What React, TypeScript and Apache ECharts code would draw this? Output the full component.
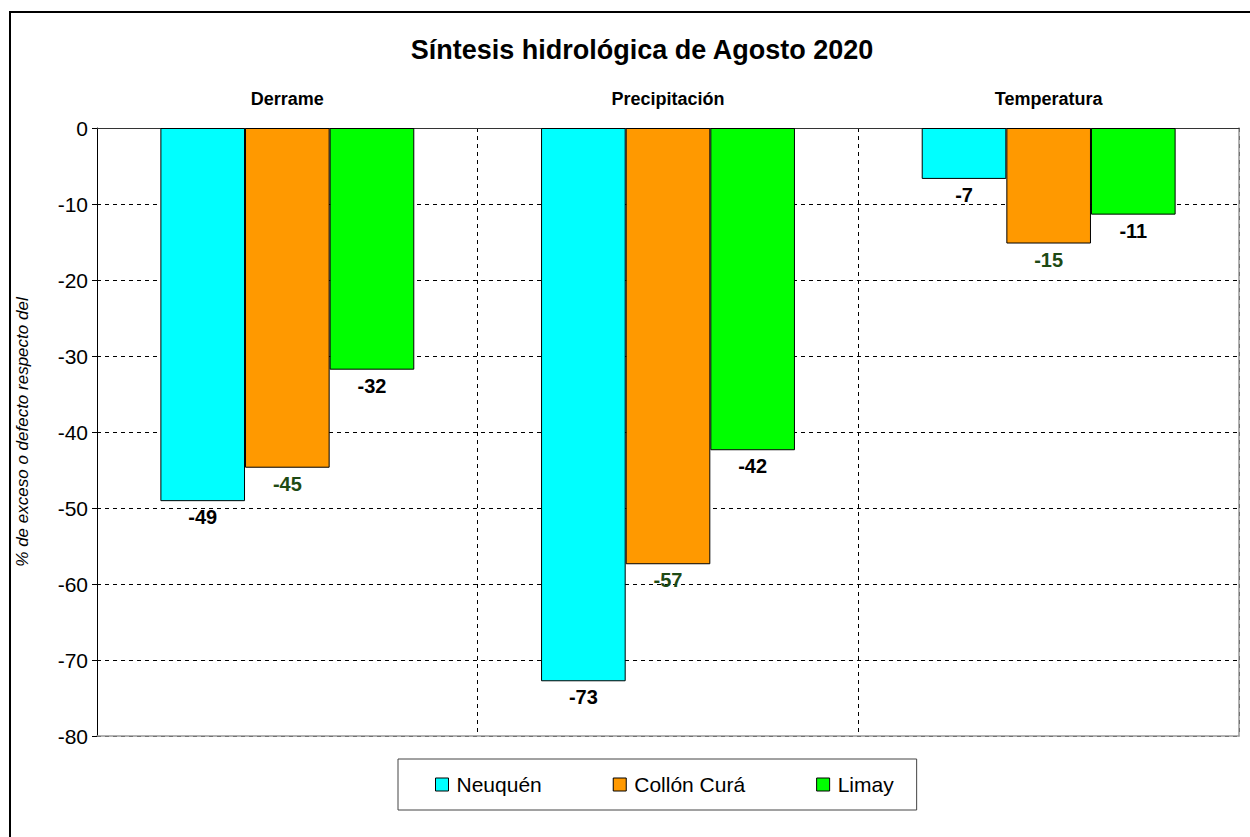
import React, { useEffect, useRef } from "react";
import * as echarts from "echarts";

const TITLE = "Síntesis hidrológica de Agosto 2020";
const Y_AXIS_NAME = "% de exceso o defecto respecto del";
const categories = ["Derrame", "Precipitación", "Temperatura"];
const seriesNames = ["Neuquén", "Collón Curá", "Limay"];
const neuquen = [-49.1, -72.8, -6.7];
const collonCura = [-44.7, -57.4, -15.2];
const limay = [-31.8, -42.4, -11.4];
const seriesValues = [neuquen, collonCura, limay];
const colors = ["#00FFFF", "#FF9900", "#00FF00"];
const labelColors = ["#000000", "#1E4A14", "#000000"];
const yTicks = { min: -80, max: 0, interval: 10 };

const FONT = "'Liberation Sans', Arial, Helvetica, sans-serif";

export default function App() {
  const ref = useRef<HTMLDivElement>(null);
  useEffect(() => {
    if (!ref.current) return;
    const chart = echarts.init(ref.current, null, { renderer: "svg" });
    const option: any = {
      animation: false,
      backgroundColor: "#ffffff",
      textStyle: { fontFamily: FONT },
      graphic: [
        {
          type: "rect",
          shape: { x: 10, y: 12, width: 1260, height: 840 },
          style: { fill: "none", stroke: "#000", lineWidth: 2 },
          silent: true,
        },
        {
          type: "text",
          x: 642,
          y: 50,
          style: {
            text: TITLE,
            align: "center",
            verticalAlign: "middle",
            fontFamily: FONT,
            fontWeight: "bold",
            fontSize: 27,
            fill: "#000",
          },
        },
      ],
      grid: { left: 97, top: 128, right: 11, bottom: 101, containLabel: false },
      legend: {
        data: seriesNames,
        left: 398,
        top: 759,
        orient: "horizontal",
        padding: [15, 23, 15, 37],
        itemGap: 71,
        itemWidth: 13,
        itemHeight: 13,
        icon: "rect",
        borderColor: "#444",
        borderWidth: 1,
        itemStyle: { borderColor: "#000", borderWidth: 1 },
        textStyle: { fontFamily: FONT, fontSize: 21, color: "#000", lineHeight: 20, padding: [0, 0, 0, 3] },
      },
      xAxis: [
        {
          type: "category",
          data: categories,
          position: "top",
          axisLine: { show: true, lineStyle: { color: "#333", width: 1 } },
          axisTick: { show: false },
          axisLabel: { fontFamily: FONT, fontWeight: "bold", fontSize: 18, color: "#000", margin: 20 },
          splitLine: { show: true, lineStyle: { color: "#000", type: [4, 4], width: 1 } },
        },
        {
          type: "category",
          data: categories,
          position: "bottom",
          axisLine: { show: true, onZero: false, lineStyle: { color: "#999", width: 1.5 } },
          axisTick: { show: false },
          axisLabel: { show: false },
          splitLine: { show: false },
        },
      ],
      yAxis: [
        {
          type: "value",
          min: yTicks.min,
          max: yTicks.max,
          interval: yTicks.interval,
          name: Y_AXIS_NAME,
          nameLocation: "middle",
          nameGap: 66,
          nameTextStyle: { fontFamily: FONT, fontStyle: "italic", fontSize: 17, color: "#000" },
          axisLine: { show: true, lineStyle: { color: "#000", width: 1 } },
          axisTick: { show: true, length: 5, lineStyle: { color: "#000" } },
          axisLabel: { fontFamily: FONT, fontSize: 21, color: "#000", margin: 9 },
          splitLine: { show: true, lineStyle: { color: "#000", type: [4, 4], width: 1 } },
        },
        {
          type: "value",
          min: yTicks.min,
          max: yTicks.max,
          interval: yTicks.interval,
          position: "right",
          axisLine: { show: true, lineStyle: { color: "#999", width: 1.5 } },
          axisTick: { show: false },
          axisLabel: { show: false },
          splitLine: { show: false },
        },
      ],
      series: seriesNames.map((name, i) => ({
        name,
        type: "bar",
        data: seriesValues[i],
        xAxisIndex: 0,
        yAxisIndex: 0,
        barGap: "0%",
        barCategoryGap: "33.3%",
        itemStyle: { color: colors[i], borderColor: "#000", borderWidth: 1 },
        label: {
          show: true,
          position: "bottom",
          distance: 6,
          fontFamily: FONT,
          fontWeight: "bold",
          fontSize: 20,
          color: labelColors[i],
          formatter: (p: any) => String(Math.round(p.value)),
        },
      })),
    };
    chart.setOption(option);
    return () => chart.dispose();
  }, []);
  return <div ref={ref} style={{ position: "fixed", left: 0, top: 0, width: 1250, height: 837 }} />;
}
